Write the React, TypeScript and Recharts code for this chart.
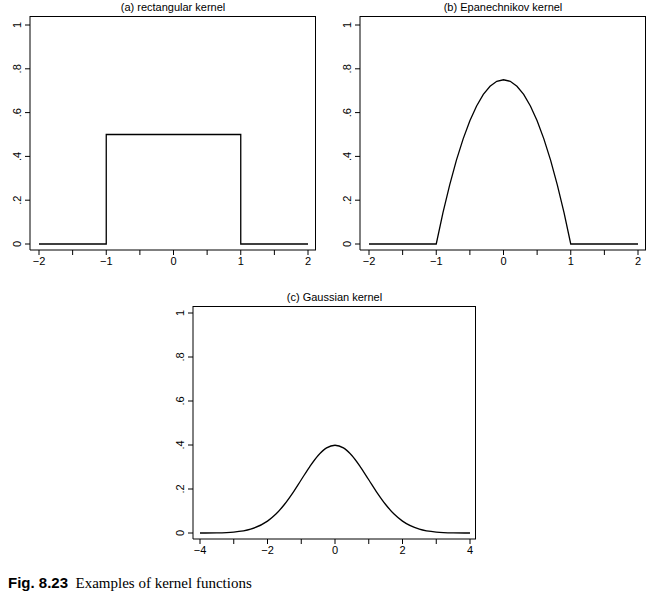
import React from "react";
import { LineChart, Line, XAxis, YAxis } from "recharts";

// values
const rectX = [-2, -1, -1, 1, 1, 2];
const rectY = [0, 0, 0.5, 0.5, 0, 0];

const epanX = [-2, -1, -0.9, -0.8, -0.7, -0.6, -0.5, -0.4, -0.3, -0.2, -0.1, 0, 0.1, 0.2, 0.3, 0.4, 0.5, 0.6, 0.7, 0.8, 0.9, 1, 2];
const epanY = [0, 0, 0.143, 0.27, 0.383, 0.48, 0.563, 0.63, 0.683, 0.72, 0.743, 0.75, 0.743, 0.72, 0.683, 0.63, 0.563, 0.48, 0.383, 0.27, 0.143, 0, 0];

const gaussX = [-4, -3.5, -3, -2.5, -2, -1.75, -1.5, -1.25, -1, -0.75, -0.5, -0.25, 0, 0.25, 0.5, 0.75, 1, 1.25, 1.5, 1.75, 2, 2.5, 3, 3.5, 4];
const gaussY = [0.0001, 0.0009, 0.0044, 0.0175, 0.054, 0.086, 0.1295, 0.1826, 0.242, 0.3011, 0.3521, 0.3867, 0.3989, 0.3867, 0.3521, 0.3011, 0.242, 0.1826, 0.1295, 0.086, 0.054, 0.0175, 0.0044, 0.0009, 0.0001];

const yTicks = [0, 0.2, 0.4, 0.6, 0.8, 1];
const yLabels = ["0", ".2", ".4", ".6", ".8", "1"];
const xTicksAB = [-2, -1.5, -1, -0.5, 0, 0.5, 1, 1.5, 2];
const xTicksC = [-4, -3, -2, -1, 0, 1, 2, 3, 4];

const font = "'Liberation Sans', Arial, sans-serif";

const toRows = (xs: number[], ys: number[]) => xs.map((x, i) => ({ x, y: ys[i] }));

const YTick = (props: any) => {
  const { x, y, payload } = props;
  const i = yTicks.indexOf(payload.value);
  return (
    <text
      x={x - 2}
      y={y}
      transform={`rotate(-90 ${x - 2} ${y})`}
      textAnchor="middle"
      fontSize={11}
      fontFamily={font}
      fill="#000"
    >
      {yLabels[i]}
    </text>
  );
};

interface PanelProps {
  title: string;
  data: { x: number; y: number }[];
  left: number;
  top: number;
  width: number;
  height: number;
  rightMargin: number;
  xTicks: number[];
  xDomain: [number, number];
  showLabel: (v: number) => boolean;
  xPad: { left: number; right: number };
  yPad: { top: number; bottom: number };
  type: "linear" | "monotone";
}

function Panel(p: PanelProps) {
  const boxW = p.width - 30 - p.rightMargin;
  const boxH = p.height - 30 - 16;
  return (
    <div style={{ position: "absolute", left: p.left, top: p.top, width: p.width, height: p.height }}>
      <div
        style={{
          position: "absolute",
          left: 30,
          width: boxW,
          top: 1,
          textAlign: "center",
          fontFamily: font,
          fontSize: 11,
        }}
      >
        {p.title}
      </div>
      <div
        style={{
          position: "absolute",
          left: 30,
          top: 16,
          width: boxW,
          height: boxH,
          borderTop: "1px solid #000",
          borderRight: "1px solid #000",
          boxSizing: "border-box",
        }}
      />
      <LineChart width={p.width} height={p.height} data={p.data} margin={{ top: 16, right: p.rightMargin, bottom: 0, left: 0 }}>
        <XAxis
          dataKey="x"
          type="number"
          domain={p.xDomain}
          ticks={p.xTicks}
          padding={p.xPad}
          tickFormatter={(v: number) => (p.showLabel(v) ? String(v).replace("-", "\u2212") : "")}
          tick={{ fontSize: 11, fontFamily: font, fill: "#000" }}
          stroke="#000"
          tickSize={5}
          height={30}
        />
        <YAxis
          type="number"
          domain={[0, 1]}
          ticks={yTicks}
          padding={p.yPad}
          tick={<YTick />}
          stroke="#000"
          tickSize={5}
          width={30}
        />
        <Line type={p.type} dataKey="y" stroke="#000" strokeWidth={1.3} dot={false} isAnimationActive={false} />
      </LineChart>
    </div>
  );
}

export default function App() {
  return (
    <div style={{ position: "absolute", left: 0, top: 0, width: 659, height: 601, background: "#fff" }}>
      <Panel
        title="(a) rectangular kernel"
        data={toRows(rectX, rectY)}
        left={0}
        top={0}
        width={330}
        height={280}
        rightMargin={14}
        xTicks={xTicksAB}
        xDomain={[-2, 2]}
        showLabel={(v) => Number.isInteger(v)}
        xPad={{ left: 9, right: 8 }}
        yPad={{ top: 9, bottom: 6 }}
        type="linear"
      />
      <Panel
        title="(b) Epanechnikov kernel"
        data={toRows(epanX, epanY)}
        left={330}
        top={0}
        width={330}
        height={280}
        rightMargin={14}
        xTicks={xTicksAB}
        xDomain={[-2, 2]}
        showLabel={(v) => Number.isInteger(v)}
        xPad={{ left: 9, right: 8 }}
        yPad={{ top: 9, bottom: 6 }}
        type="linear"
      />
      <Panel
        title="(c) Gaussian kernel"
        data={toRows(gaussX, gaussY)}
        left={163}
        top={290}
        width={330}
        height={279}
        rightMargin={17}
        xTicks={xTicksC}
        xDomain={[-4, 4]}
        showLabel={(v) => v % 2 === 0}
        xPad={{ left: 7, right: 6 }}
        yPad={{ top: 7, bottom: 6 }}
        type="monotone"
      />
      <div style={{ position: "absolute", left: 8, top: 574, fontSize: 15 }}>
        <span style={{ fontFamily: font, fontWeight: "bold" }}>Fig. 8.23</span>
        <span style={{ fontFamily: "'Liberation Serif', serif" }}>&nbsp; Examples of kernel functions</span>
      </div>
    </div>
  );
}
